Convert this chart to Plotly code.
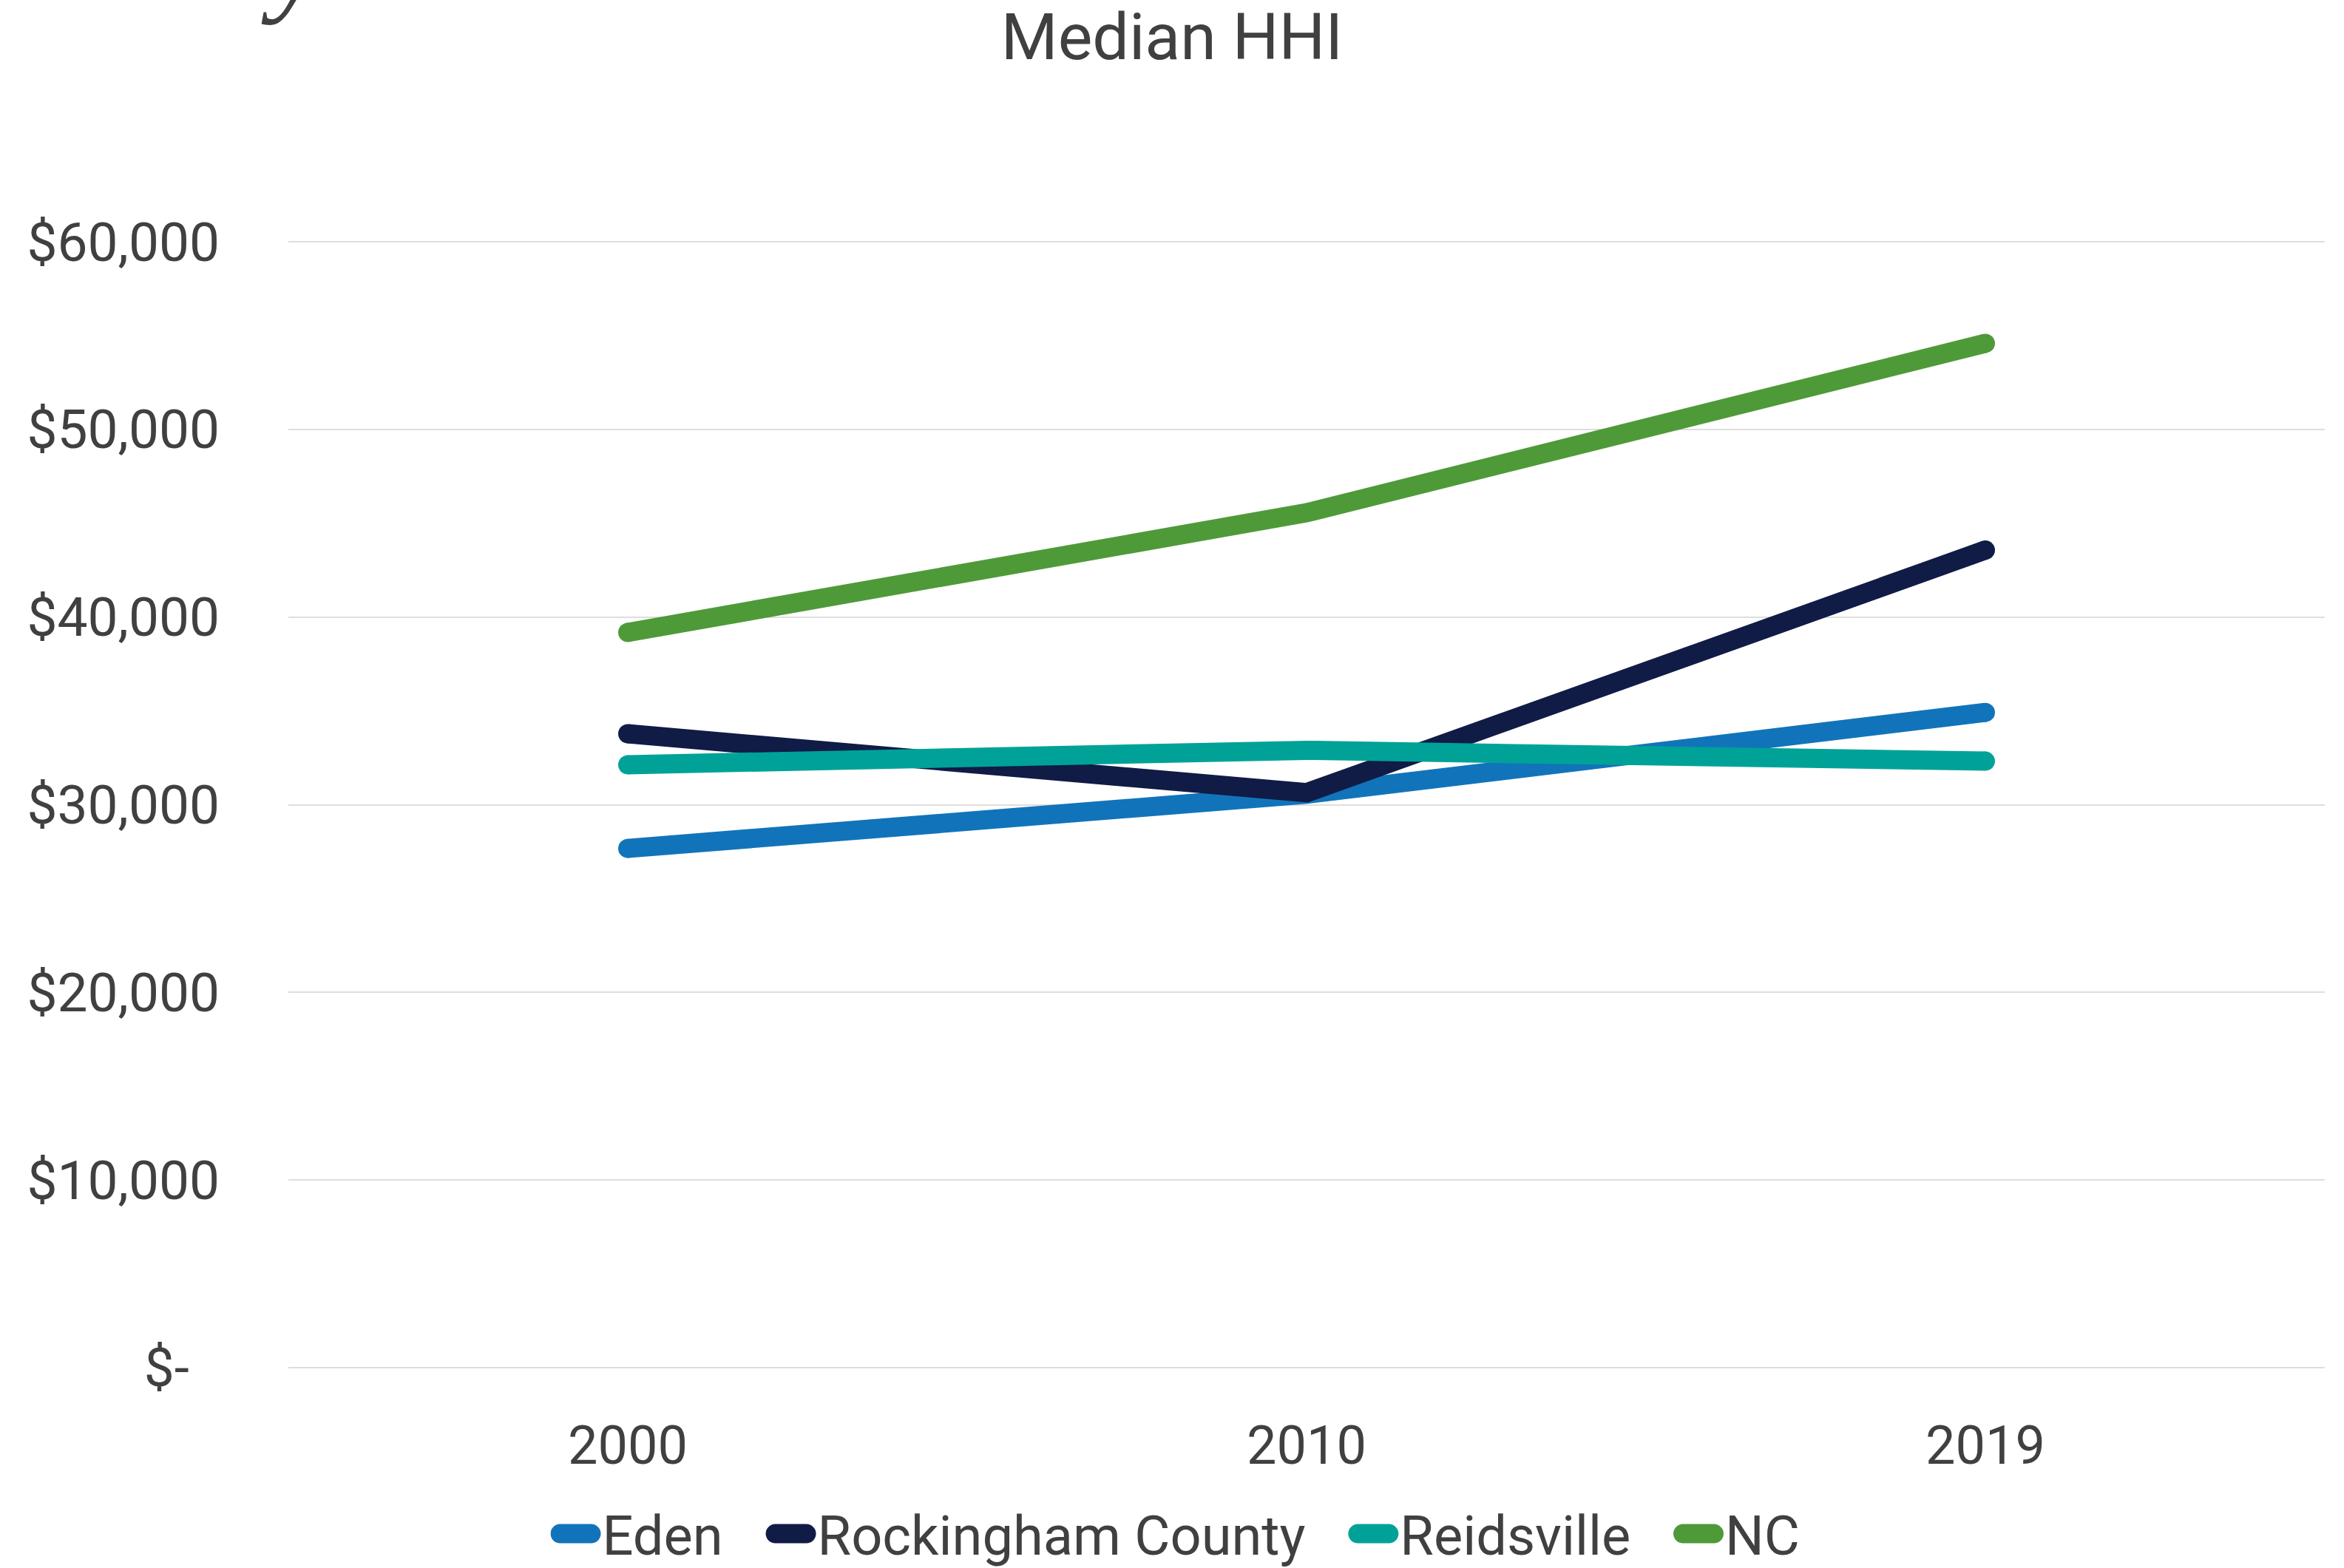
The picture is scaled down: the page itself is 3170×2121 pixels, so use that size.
import plotly.graph_objects as go

# Median household income by place
years = ["2000", "2010", "2019"]
eden = [27670, 30560, 34920]
rockingham_county = [33780, 30640, 43570]
reidsville = [32130, 32900, 32320]
nc = [39180, 45560, 54590]

series_names = ["Eden", "Rockingham County", "Reidsville", "NC"]
series_values = [eden, rockingham_county, reidsville, nc]
series_colors = ["#1174BA", "#101B46", "#00A298", "#4E9A39"]

y_tick_values = [0, 10000, 20000, 30000, 40000, 50000, 60000]
y_tick_labels = ["$-\u2007", "$10,000", "$20,000", "$30,000", "$40,000", "$50,000", "$60,000"]

W, H = 3170, 2121
LINE_W = 26
TEXT = "#404040"
FONT = "Roboto"

fig = go.Figure()
for i, (name, vals, color) in enumerate(zip(series_names, series_values, series_colors)):
    # a little extra spacing after each legend entry except the last
    label = name + ("\u2002\u2009" if i < len(series_names) - 1 else "")
    fig.add_trace(go.Scatter(
        x=years, y=vals, name=label, mode="lines",
        line=dict(color=color, width=LINE_W),
        hoverinfo="skip",
    ))
    # round end caps on each line
    fig.add_trace(go.Scatter(
        x=[years[0], years[-1]], y=[vals[0], vals[-1]], mode="markers",
        marker=dict(color=color, size=LINE_W, line=dict(width=0)),
        showlegend=False, hoverinfo="skip",
    ))

# partially visible heading glyph along the top edge
fig.add_annotation(
    text="y", xref="paper", yref="paper", x=0.002, y=1.186,
    xanchor="center", yanchor="bottom", showarrow=False,
    font=dict(family="Liberation Serif", size=160, color=TEXT, style="italic"),
)

fig.update_layout(
    width=W, height=H,
    margin=dict(l=390, r=26, t=322, b=266),
    paper_bgcolor="white", plot_bgcolor="white",
    font=dict(family=FONT, color=TEXT),
    title=dict(
        text="Median HHI", x=0.5, xref="container", xanchor="center",
        y=1 - 49 / H, yref="container", yanchor="middle",
        font=dict(family=FONT, size=88, color=TEXT),
    ),
    showlegend=True,
    legend=dict(
        orientation="h", xref="container", yref="container",
        x=1592 / W, xanchor="center", y=1 - 2075 / H, yanchor="middle",
        font=dict(family=FONT, size=74, color=TEXT),
        itemwidth=60, bgcolor="rgba(0,0,0,0)",
    ),
    xaxis=dict(
        type="category", range=[-0.5, 2.5],
        showgrid=False, zeroline=False, showline=False,
        ticks="", ticklabelstandoff=52,
        tickfont=dict(family=FONT, size=72, color=TEXT),
    ),
    yaxis=dict(
        range=[-200, 60200], tickvals=y_tick_values, ticktext=y_tick_labels,
        showgrid=True, gridcolor="#DEDEDE", gridwidth=2,
        zeroline=False, showline=False,
        ticks="", ticklabelstandoff=92,
        tickfont=dict(family=FONT, size=73, color=TEXT),
    ),
)

# thick, round-capped legend keys
legend_js = """
var gd = document.getElementById('{plot_id}');
function styleLegendKeys() {
  gd.querySelectorAll('g.legend path.js-line').forEach(function (p) {
    p.setAttribute('d', 'M13,0h42');
    p.style.strokeWidth = '26px';
    p.style.strokeLinecap = 'round';
  });
}
styleLegendKeys();
gd.on('plotly_afterplot', styleLegendKeys);
"""

fig.write_html("out.html", post_script=legend_js)
